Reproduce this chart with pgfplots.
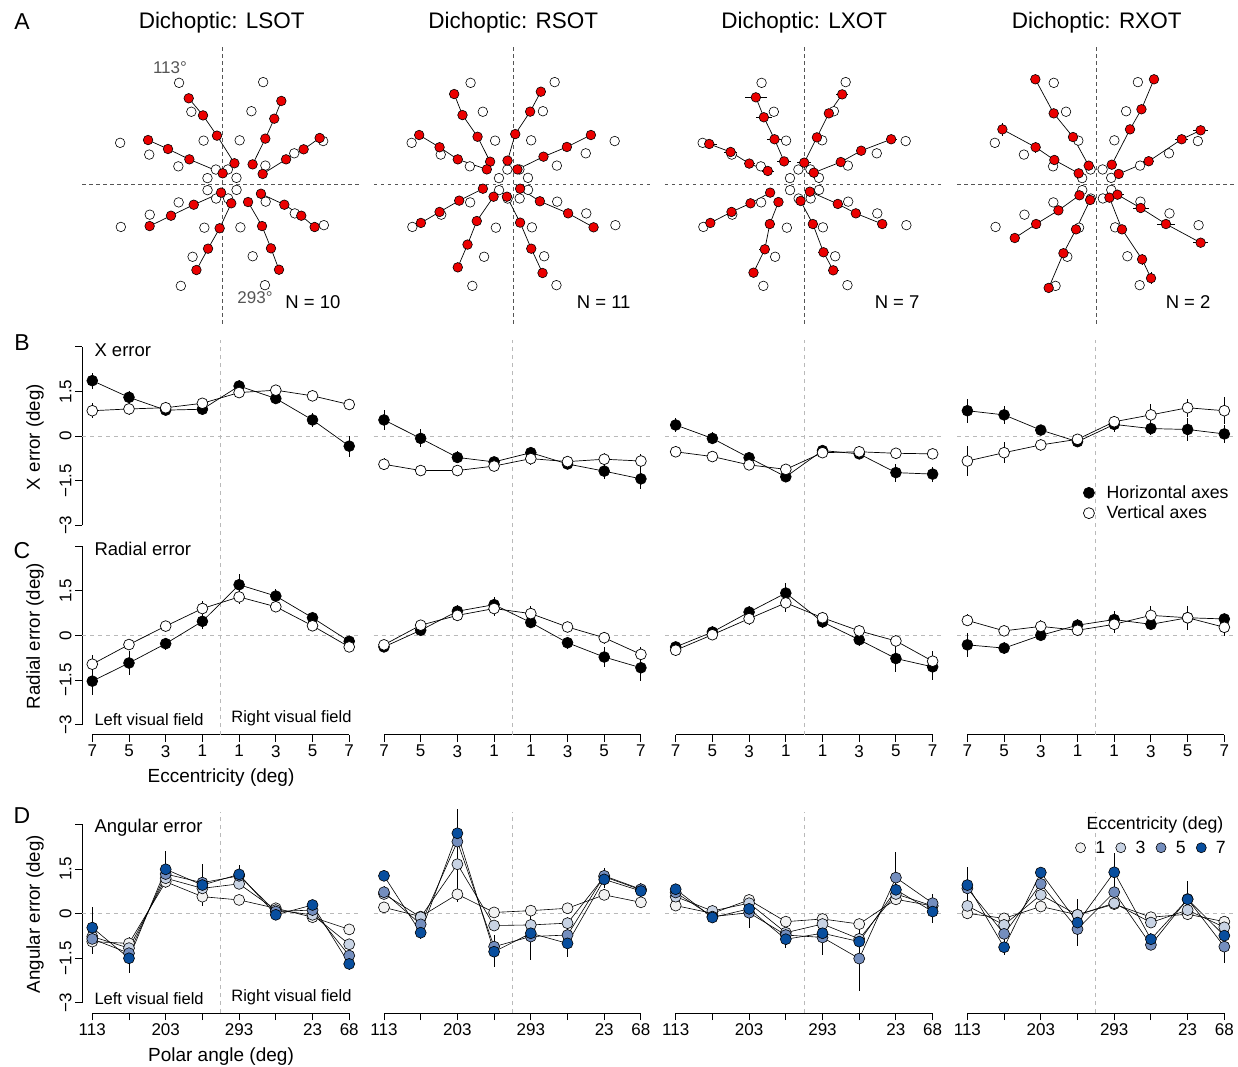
\documentclass[border=0pt]{standalone}
\usepackage{fontspec}
\setmainfont{Liberation Sans}
\usepackage{pgfplots}
\pgfplotsset{compat=1.18}
\usepackage{pgfplotstable}

\definecolor{eA}{RGB}{242,242,242}
\definecolor{eB}{RGB}{200,211,228}
\definecolor{eC}{RGB}{116,142,190}
\definecolor{eD}{RGB}{8,78,158}
\definecolor{refgray}{RGB}{185,185,185}
\definecolor{agray}{RGB}{85,85,85}
\definecolor{redpt}{RGB}{235,0,0}

\newcommand{\fs}[1]{\fontsize{#1bp}{#1bp}\selectfont}

% target positions (polar angle 23,68,...,338 deg; eccentricity 1,3,5,7 deg)
\pgfplotstableread{
x y
0.921 0.391
0.375 0.927
-0.391 0.921
-0.927 0.375
-0.921 -0.391
-0.375 -0.927
0.391 -0.921
0.927 -0.375
2.762 1.172
1.124 2.782
-1.172 2.762
-2.782 1.124
-2.762 -1.172
-1.124 -2.782
1.172 -2.762
2.782 -1.124
4.603 1.954
1.873 4.636
-1.954 4.603
-4.636 1.873
-4.603 -1.954
-1.873 -4.636
1.954 -4.603
4.636 -1.873
6.444 2.735
2.622 6.490
-2.735 6.444
-6.490 2.622
-6.444 -2.735
-2.622 -6.490
2.735 -6.444
6.490 -2.622
}\targets

\tikzset{
  refl/.style={refgray, dash pattern=on 4bp off 4bp, line width=0.8bp},
  adash/.style={agray, dash pattern=on 3.5bp off 3.5bp, line width=0.9bp},
}

\pgfplotsset{
  polar/.style={scale only axis, enlargelimits=false, clip=false, width=279.4bp, height=279.4bp,
    xmin=-8.9, xmax=8.9, ymin=-8.9, ymax=8.9, axis lines=none, unbounded coords=jump, anchor=south west},
  tgt/.style={only marks, mark=*, mark size=4.8bp, mark options={solid, fill=white, draw=black, line width=0.6bp}},
  resp/.style={black, line width=0.7bp, mark=*, mark size=4.8bp, mark options={solid, fill=redpt, draw=black, line width=0.6bp}},
  resperr/.style={resp, error bars/.cd, x dir=both, x explicit, y dir=both, y explicit, error mark=none, error bar style={black, line width=0.8bp}},
  err/.style={scale only axis, enlargelimits=false, clip=false, width=277.5bp, height=195.8bp,
    xmin=-0.28, xmax=7.28, ymin=-3.34, ymax=3.24, anchor=south west,
    axis x line=bottom, axis y line=left,
    tick align=outside, major tick length=7bp, tick style={black, line width=0.9bp},
    tick label style={font=\fs{17}},
    x axis line style={-, line width=0.9bp, shorten <=10.3bp, shorten >=10.3bp},
    y axis line style={-, line width=0.9bp, shorten <=10.1bp, shorten >=7.1bp},
    ytick={-3,-1.5,0,1.5,3}, yticklabels={−3,−1.5,0,1.5,{}}, yticklabel style={rotate=90, anchor=south},
    xtick={0,1,2,3,4,5,6,7}},
  noy/.style={hide y axis},
  nox/.style={hide x axis},
  xecc/.style={xticklabels={7,5,3,1,1,3,5,7}},
  xpol/.style={xticklabels={113,{},203,{},293,{},23,68}},
  hblk/.style={black, line width=0.7bp, mark=*, mark size=5.4bp, mark options={solid, fill=black, draw=black, line width=0.7bp}, forget plot,
    error bars/.cd, y dir=both, y explicit, error mark=none, error bar style={black, line width=0.9bp}},
  vwht/.style={black, line width=0.7bp, mark=*, mark size=5.4bp, mark options={solid, fill=white, draw=black, line width=0.7bp}, forget plot,
    error bars/.cd, y dir=both, y explicit, error mark=none, error bar style={black, line width=0.9bp}},
  ecc/.style={black, line width=0.6bp, mark=*, mark size=5.5bp, mark options={solid, fill=#1, draw=black, line width=0.6bp}, forget plot,
    error bars/.cd, y dir=both, y explicit, error mark=none, error bar style={black, line width=0.9bp}},
}
\newcommand{\refh}{\draw[refl] (axis cs:-0.28,0) -- (axis cs:7.28,0);}
\newcommand{\refv}[2]{\draw[refl] (axis cs:3.5,#1) -- (axis cs:3.5,#2);}
\newcommand{\adashes}{\draw[adash] (axis cs:-8.9,0) -- (axis cs:8.9,0); \draw[adash] (axis cs:0,-8.9) -- (axis cs:0,8.9);}

\begin{document}
\begin{tikzpicture}
\useasboundingbox (0bp,0bp) rectangle (1238bp,-1067bp);

% ================= Row A =================
\begin{axis}[polar, at={(82.3bp,-323.7bp)}]
\adashes
\addplot[tgt] table {\targets};
\addplot[resp] coordinates {
(6.22,2.93) (5.20,2.21) (4.08,1.57) (2.59,0.64) (nan,nan)
(3.78,5.29) (3.33,4.16) (2.76,2.89) (1.95,1.25) (nan,nan)
(-2.12,5.46) (-1.21,4.37) (-0.32,3.08) (0.79,1.32) (nan,nan)
(-4.71,2.80) (-3.44,2.23) (-2.08,1.57) (0.04,0.68) (nan,nan)
(-4.61,-2.68) (-3.25,-2.02) (-1.80,-1.32) (-0.06,-0.55) (nan,nan)
(-1.63,-5.48) (-0.89,-4.12) (-0.15,-2.82) (0.59,-1.23) (nan,nan)
(3.63,-5.46) (3.12,-4.10) (2.55,-2.68) (1.66,-1.15) (nan,nan)
(5.90,-2.74) (5.05,-2.02) (3.97,-1.32) (2.48,-0.62)
};
\end{axis}

\begin{axis}[polar, at={(373.8bp,-323.7bp)}]
\adashes
\addplot[tgt] table {\targets};
\addplot[resp] coordinates {
(4.93,3.12) (3.40,2.36) (1.91,1.74) (0.25,0.93) (nan,nan)
(1.74,5.88) (1.06,4.61) (0.11,3.18) (-0.38,1.49) (nan,nan)
(-3.78,5.73) (-3.25,4.39) (-2.29,3.01) (-1.49,1.42) (nan,nan)
(-6.01,3.12) (-4.71,2.34) (-3.55,1.57) (-1.70,0.93) (nan,nan)
(-5.90,-2.48) (-4.71,-1.78) (-3.46,-1.06) (-1.95,-0.30) (nan,nan)
(-3.55,-5.31) (-2.93,-3.86) (-2.34,-2.36) (-1.27,-0.81) (nan,nan)
(1.85,-5.67) (1.13,-4.12) (0.42,-2.46) (-0.42,-0.81) (nan,nan)
(5.10,-2.76) (3.48,-1.87) (1.68,-1.10) (0.42,-0.30)
};
\end{axis}

\begin{axis}[polar, at={(664.8bp,-323.7bp)}]
\adashes
\addplot[tgt] table {\targets};
\addplot[resperr] coordinates {
(5.52,2.85) +- (0.35,0) (3.61,2.12) +- (0.25,0) (2.31,1.40) +- (0.3,0) (0.59,0.72) +- (0.3,0) (nan,nan)
(2.40,5.71) +- (0.4,0) (1.55,4.50) +- (0.3,0) (0.79,2.97) +- (0.3,0) (-0.02,1.36) +- (0.45,0) (nan,nan)
(-3.10,5.52) +- (0.7,0) (-2.59,4.25) +- (0.53,0) (-1.91,2.85) +- (0.45,0) (-1.30,1.44) +- (0.45,0) (nan,nan)
(-6.07,2.55) +- (0.48,0) (-4.71,2.04) +- (0.4,0) (-3.52,1.30) +- (0.35,0) (-2.34,0.83) +- (0.4,0) (nan,nan)
(-6.00,-2.48) +- (0.3,0) (-4.65,-1.78) +- (0.3,0) (-3.44,-1.23) +- (0.25,0) (-2.19,-0.55) +- (0.25,0) (nan,nan)
(-3.25,-5.65) +- (0.3,0) (-2.53,-4.16) +- (0.35,0) (-2.21,-2.55) +- (0.3,0) (-1.66,-1.15) +- (0.25,0) (nan,nan)
(1.83,-5.50) +- (0.35,0) (1.21,-4.35) +- (0.35,0) (0.53,-2.55) +- (0.3,0) (-0.25,-1.08) +- (0.2,0) (nan,nan)
(4.95,-2.55) +- (0.3,0) (3.27,-1.87) +- (0.3,0) (2.12,-1.27) +- (0.3,0) (0.34,-0.49) +- (0.25,0)
};
\end{axis}

\begin{axis}[polar, at={(957.0bp,-323.7bp)}]
\adashes
\addplot[tgt] table {\targets};
\addplot[resperr] coordinates {
(6.62,3.42) +- (0.48,0) (5.41,2.85) +- (0.4,0) (3.31,1.45) +- (0.35,0) (1.40,0.64) +- (0.2,0) (nan,nan)
(3.65,6.67) +- (0.1,0) (2.85,4.76) +- (0.1,0) (2.12,3.48) +- (0.1,0) (0.96,1.23) +- (0.1,0) (nan,nan)
(-3.91,6.67) +- (0.1,0.1) (-2.74,4.50) +- (0.1,0.1) (-1.51,2.99) +- (0.1,0.1) (-0.51,1.17) +- (0.1,0.1) (nan,nan)
(-6.01,3.48) +- (0.1,0.4) (-3.89,2.34) +- (0.1,0.35) (-2.70,1.53) +- (0.1,0.2) (-1.15,0.68) +- (0.1,0.1) (nan,nan)
(-5.22,-3.44) +- (0.1,0.1) (-3.86,-2.55) +- (0.1,0.1) (-2.44,-1.68) +- (0.1,0.1) (-1.10,-0.72) +- (0.1,0.1) (nan,nan)
(-3.06,-6.62) +- (0.1,0.1) (-2.12,-4.41) +- (0.1,0.1) (-1.32,-2.89) +- (0.1,0.1) (-0.42,-1.02) +- (0.1,0.1) (nan,nan)
(3.46,-6.00) +- (0.1,0.4) (2.89,-4.80) +- (0.1,0.35) (1.61,-2.89) +- (0.1,0.1) (0.81,-0.87) +- (0.1,0.1) (nan,nan)
(6.62,-3.74) +- (0.5,0) (4.41,-2.55) +- (0.58,0) (2.80,-1.53) +- (0.5,0) (1.32,-0.68) +- (0.4,0)
};
\end{axis}

% ================= Row B: X error =================
\begin{axis}[err, nox, at={(82.0bp,-535.4bp)}]
\refh \refv{-3.6}{3.24}
\addplot[hblk] coordinates {(0,1.86) +- (0,0.27) (1,1.30) +- (0,0.2) (2,0.87) +- (0,0.15) (3,0.90) +- (0,0.2) (4,1.68) +- (0,0.2) (5,1.26) +- (0,0.2) (6,0.54) +- (0,0.25) (7,-0.34) +- (0,0.35)};
\addplot[vwht] coordinates {(0,0.85) +- (0,0.25) (1,0.91) +- (0,0.2) (2,0.95) +- (0,0.15) (3,1.10) +- (0,0.15) (4,1.46) +- (0,0.15) (5,1.54) +- (0,0.15) (6,1.35) +- (0,0.12) (7,1.06) +- (0,0.2)};
\end{axis}

\begin{axis}[err, nox, noy, at={(373.7bp,-535.4bp)}]
\refh \refv{-3.6}{3.24}
\addplot[hblk] coordinates {(0,0.54) +- (0,0.35) (1,-0.08) +- (0,0.3) (2,-0.72) +- (0,0.2) (3,-0.87) +- (0,0.15) (4,-0.56) +- (0,0.2) (5,-0.94) +- (0,0.15) (6,-1.18) +- (0,0.25) (7,-1.44) +- (0,0.35)};
\addplot[vwht] coordinates {(0,-0.95) +- (0,0.2) (1,-1.16) +- (0,0.2) (2,-1.16) +- (0,0.15) (3,-1.01) +- (0,0.15) (4,-0.76) +- (0,0.2) (5,-0.86) +- (0,0.15) (6,-0.78) +- (0,0.2) (7,-0.84) +- (0,0.25)};
\end{axis}

\begin{axis}[err, nox, noy, at={(665.4bp,-535.4bp)}]
\refh \refv{-3.6}{3.24}
\addplot[hblk] coordinates {(0,0.37) +- (0,0.25) (1,-0.08) +- (0,0.2) (2,-0.73) +- (0,0.2) (3,-1.37) +- (0,0.15) (4,-0.49) +- (0,0.15) (5,-0.60) +- (0,0.15) (6,-1.23) +- (0,0.3) (7,-1.28) +- (0,0.25)};
\addplot[vwht] coordinates {(0,-0.53) +- (0,0.15) (1,-0.69) +- (0,0.15) (2,-0.97) +- (0,0.15) (3,-1.12) +- (0,0.15) (4,-0.56) +- (0,0.15) (5,-0.53) +- (0,0.15) (6,-0.58) +- (0,0.15) (7,-0.60) +- (0,0.15)};
\end{axis}

\begin{axis}[err, nox, noy, at={(957.1bp,-535.4bp)},
  legend style={at={(rel axis cs:0.452,0.1655)}, anchor=west, draw=none, fill=none, inner sep=0pt, row sep=3bp, font=\fs{17.7}, nodes={inner sep=1.5bp}},
  legend cell align=left,
  legend image code/.code={\path (-6bp,0bp) (16bp,0bp); \draw[#1] plot coordinates {(0bp,0bp)};}]
\refh \refv{-3.6}{3.24}
\addplot[hblk] coordinates {(0,0.85) +- (0,0.4) (1,0.71) +- (0,0.3) (2,0.20) +- (0,0.15) (3,-0.19) +- (0,0.15) (4,0.39) +- (0,0.25) (5,0.25) +- (0,0.2) (6,0.22) +- (0,0.4) (7,0.07) +- (0,0.3)};
\addplot[vwht] coordinates {(0,-0.84) +- (0,0.5) (1,-0.56) +- (0,0.35) (2,-0.30) +- (0,0.2) (3,-0.11) +- (0,0.15) (4,0.48) +- (0,0.15) (5,0.71) +- (0,0.35) (6,0.95) +- (0,0.3) (7,0.85) +- (0,0.45)};
\addlegendimage{only marks, mark=*, mark size=5.5bp, mark options={fill=black, draw=black, line width=0.7bp}}
\addlegendentry{Horizontal axes}
\addlegendimage{only marks, mark=*, mark size=5.5bp, mark options={fill=white, draw=black, line width=0.7bp}}
\addlegendentry{Vertical axes}
\end{axis}

% ================= Row C: Radial error =================
\begin{axis}[err, xecc, at={(82.0bp,-734.7bp)}]
\refh \refv{-3.34}{3.24}
\addplot[hblk] coordinates {(0,-1.54) +- (0,0.45) (1,-0.93) +- (0,0.4) (2,-0.28) +- (0,0.2) (3,0.47) +- (0,0.25) (4,1.70) +- (0,0.35) (5,1.32) +- (0,0.25) (6,0.59) +- (0,0.15) (7,-0.20) +- (0,0.12)};
\addplot[vwht] coordinates {(0,-0.97) +- (0,0.3) (1,-0.31) +- (0,0.2) (2,0.31) +- (0,0.12) (3,0.90) +- (0,0.25) (4,1.29) +- (0,0.25) (5,0.96) +- (0,0.15) (6,0.32) +- (0,0.12) (7,-0.39) +- (0,0.12)};
\end{axis}

\begin{axis}[err, noy, xecc, at={(373.7bp,-734.7bp)}]
\refh \refv{-3.34}{3.24}
\addplot[hblk] coordinates {(0,-0.39) +- (0,0.15) (1,0.17) +- (0,0.2) (2,0.81) +- (0,0.2) (3,1.03) +- (0,0.25) (4,0.43) +- (0,0.2) (5,-0.25) +- (0,0.2) (6,-0.73) +- (0,0.35) (7,-1.09) +- (0,0.45)};
\addplot[vwht] coordinates {(0,-0.32) +- (0,0.15) (1,0.34) +- (0,0.15) (2,0.67) +- (0,0.2) (3,0.90) +- (0,0.25) (4,0.73) +- (0,0.25) (5,0.28) +- (0,0.15) (6,-0.08) +- (0,0.2) (7,-0.64) +- (0,0.25)};
\end{axis}

\begin{axis}[err, noy, xecc, at={(665.4bp,-734.7bp)}]
\refh \refv{-3.34}{3.24}
\addplot[hblk] coordinates {(0,-0.39) +- (0,0.15) (1,0.11) +- (0,0.2) (2,0.78) +- (0,0.2) (3,1.42) +- (0,0.35) (4,0.45) +- (0,0.2) (5,-0.15) +- (0,0.2) (6,-0.78) +- (0,0.45) (7,-1.06) +- (0,0.45)};
\addplot[vwht] coordinates {(0,-0.50) +- (0,0.15) (1,0.02) +- (0,0.15) (2,0.56) +- (0,0.2) (3,1.09) +- (0,0.3) (4,0.59) +- (0,0.2) (5,0.15) +- (0,0.15) (6,-0.19) +- (0,0.2) (7,-0.87) +- (0,0.35)};
\end{axis}

\begin{axis}[err, noy, xecc, at={(957.1bp,-734.7bp)}]
\refh \refv{-3.34}{3.24}
\addplot[hblk] coordinates {(0,-0.32) +- (0,0.4) (1,-0.43) +- (0,0.2) (2,0.00) +- (0,0.15) (3,0.34) +- (0,0.2) (4,0.53) +- (0,0.3) (5,0.37) +- (0,0.2) (6,0.59) +- (0,0.4) (7,0.55) +- (0,0.15)};
\addplot[vwht] coordinates {(0,0.50) +- (0,0.2) (1,0.15) +- (0,0.15) (2,0.30) +- (0,0.2) (3,0.17) +- (0,0.15) (4,0.37) +- (0,0.3) (5,0.67) +- (0,0.3) (6,0.59) +- (0,0.35) (7,0.27) +- (0,0.3)};
\end{axis}

% ================= Row D: Angular error =================
\begin{axis}[err, xpol, at={(82.0bp,-1013.0bp)}]
\refh \refv{-3.34}{3.4}
\addplot[ecc=eA] coordinates {(0,-0.94) +- (0,0.2) (1,-1.00) +- (0,0.2) (2,1.07) +- (0,0.2) (3,0.57) +- (0,0.25) (4,0.46) +- (0,0.1) (5,0.18) +- (0,0.1) (6,-0.12) +- (0,0.1) (7,-0.53) +- (0,0.1)};
\addplot[ecc=eB] coordinates {(0,-0.77) +- (0,0.3) (1,-1.16) +- (0,0.2) (2,1.19) +- (0,0.2) (3,0.85) +- (0,0.3) (4,1.00) +- (0,0.15) (5,0.12) +- (0,0.1) (6,-0.04) +- (0,0.1) (7,-1.03) +- (0,0.15)};
\addplot[ecc=eC] coordinates {(0,-0.85) +- (0,0.5) (1,-1.33) +- (0,0.3) (2,1.33) +- (0,0.3) (3,1.04) +- (0,0.3) (4,1.27) +- (0,0.2) (5,0.07) +- (0,0.1) (6,0.12) +- (0,0.1) (7,-1.41) +- (0,0.2)};
\addplot[ecc=eD] coordinates {(0,-0.47) +- (0,0.7) (1,-1.50) +- (0,0.5) (2,1.49) +- (0,0.6) (3,0.96) +- (0,0.7) (4,1.32) +- (0,0.3) (5,-0.04) +- (0,0.15) (6,0.29) +- (0,0.15) (7,-1.69) +- (0,0.2)};
\end{axis}

\begin{axis}[err, noy, xpol, at={(373.7bp,-1013.0bp)}]
\refh \refv{-3.34}{3.4}
\addplot[ecc=eA] coordinates {(0,0.21) +- (0,0.1) (1,-0.10) +- (0,0.1) (2,0.65) +- (0,0.25) (3,0.04) +- (0,0.1) (4,0.10) +- (0,0.1) (5,0.18) +- (0,0.1) (6,0.63) +- (0,0.1) (7,0.38) +- (0,0.1)};
\addplot[ecc=eB] coordinates {(0,0.66) +- (0,0.15) (1,-0.12) +- (0,0.15) (2,1.66) +- (0,0.9) (3,-0.40) +- (0,0.2) (4,-0.38) +- (0,0.2) (5,-0.32) +- (0,0.2) (6,1.24) +- (0,0.2) (7,0.80) +- (0,0.15)};
\addplot[ecc=eC] coordinates {(0,0.72) +- (0,0.2) (1,-0.36) +- (0,0.2) (2,2.42) +- (0,0.8) (3,-1.11) +- (0,0.4) (4,-0.77) +- (0,0.5) (5,-0.72) +- (0,0.3) (6,1.27) +- (0,0.25) (7,0.82) +- (0,0.2)};
\addplot[ecc=eD] coordinates {(0,1.27) +- (0,0.15) (1,-0.64) +- (0,0.2) (2,2.70) +- (0,0.8) (3,-1.28) +- (0,0.5) (4,-0.66) +- (0,0.9) (5,-1.00) +- (0,0.45) (6,1.15) +- (0,0.3) (7,0.76) +- (0,0.2)};
\end{axis}

\begin{axis}[err, noy, xpol, at={(665.4bp,-1013.0bp)}]
\refh \refv{-3.34}{3.4}
\addplot[ecc=eA] coordinates {(0,0.27) +- (0,0.1) (1,0.01) +- (0,0.1) (2,0.46) +- (0,0.1) (3,-0.27) +- (0,0.1) (4,-0.18) +- (0,0.1) (5,-0.35) +- (0,0.1) (6,0.48) +- (0,0.2) (7,0.26) +- (0,0.1)};
\addplot[ecc=eB] coordinates {(0,0.57) +- (0,0.1) (1,0.09) +- (0,0.1) (2,0.35) +- (0,0.2) (3,-0.64) +- (0,0.2) (4,-0.35) +- (0,0.2) (5,-0.85) +- (0,0.3) (6,0.66) +- (0,0.3) (7,0.26) +- (0,0.2)};
\addplot[ecc=eC] coordinates {(0,0.71) +- (0,0.15) (1,-0.10) +- (0,0.1) (2,0.03) +- (0,0.5) (3,-0.72) +- (0,0.3) (4,-0.80) +- (0,0.6) (5,-1.51) +- (0,1.1) (6,1.21) +- (0,0.85) (7,0.35) +- (0,0.3)};
\addplot[ecc=eD] coordinates {(0,0.82) +- (0,0.15) (1,-0.13) +- (0,0.1) (2,0.16) +- (0,0.2) (3,-0.86) +- (0,0.3) (4,-0.66) +- (0,0.3) (5,-0.94) +- (0,0.4) (6,0.80) +- (0,0.3) (7,0.07) +- (0,0.4)};
\end{axis}

\begin{axis}[err, noy, xpol, at={(957.1bp,-1013.0bp)},
  legend style={at={(rel axis cs:0.393,0.844)}, anchor=west, draw=none, fill=none, inner sep=0pt, font=\fs{17.7}, nodes={inner sep=1.5bp}},
  legend columns=4,
  legend image code/.code={\path (-14bp,0bp) (13bp,0bp); \draw[#1] plot coordinates {(0bp,0bp)};}]
\refh \refv{-3.34}{3.4}
\addplot[ecc=eA] coordinates {(0,0.01) +- (0,0.1) (1,-0.16) +- (0,0.1) (2,0.24) +- (0,0.1) (3,-0.04) +- (0,0.15) (4,0.32) +- (0,0.1) (5,-0.12) +- (0,0.1) (6,-0.02) +- (0,0.1) (7,-0.27) +- (0,0.1)};
\addplot[ecc=eB] coordinates {(0,0.26) +- (0,0.2) (1,-0.38) +- (0,0.1) (2,0.63) +- (0,0.15) (3,-0.04) +- (0,0.2) (4,0.35) +- (0,0.15) (5,-0.30) +- (0,0.1) (6,0.12) +- (0,0.2) (7,-0.46) +- (0,0.2)};
\addplot[ecc=eC] coordinates {(0,0.85) +- (0,0.5) (1,-0.68) +- (0,0.2) (2,1.00) +- (0,0.2) (3,-0.52) +- (0,0.4) (4,0.72) +- (0,0.3) (5,-1.05) +- (0,0.15) (6,0.49) +- (0,0.3) (7,-1.11) +- (0,0.55)};
\addplot[ecc=eD] coordinates {(0,0.96) +- (0,0.6) (1,-1.13) +- (0,0.25) (2,1.38) +- (0,0.15) (3,-0.30) +- (0,0.8) (4,1.39) +- (0,0.65) (5,-0.86) +- (0,0.2) (6,0.48) +- (0,0.6) (7,-0.74) +- (0,0.3)};
\addlegendimage{only marks, mark=*, mark size=5bp, mark options={fill=eA, draw=black, line width=0.6bp}}
\addlegendentry{1}
\addlegendimage{only marks, mark=*, mark size=5bp, mark options={fill=eB, draw=black, line width=0.6bp}}
\addlegendentry{3}
\addlegendimage{only marks, mark=*, mark size=5bp, mark options={fill=eC, draw=black, line width=0.6bp}}
\addlegendentry{5}
\addlegendimage{only marks, mark=*, mark size=5bp, mark options={fill=eD, draw=black, line width=0.6bp}}
\addlegendentry{7}
\end{axis}

% ================= Texts =================
\node[font=\fs{23}] at (22bp,-22bp) {A};
\node[font=\fs{23}] at (22bp,-343bp) {B};
\node[font=\fs{23}] at (22bp,-551bp) {C};
\node[font=\fs{23}] at (22bp,-816bp) {D};

\node[font=\fs{22.5}] at (221.7bp,-23bp) {Dichoptic: LSOT};
\node[font=\fs{22.5}] at (513.3bp,-23bp) {Dichoptic: RSOT};
\node[font=\fs{22.5}] at (804.3bp,-23bp) {Dichoptic: LXOT};
\node[font=\fs{22.5}] at (1096.7bp,-23bp) {Dichoptic: RXOT};

\node[font=\fs{17}, text=agray] at (170bp,-68bp) {113°};
\node[font=\fs{17}, text=agray] at (255bp,-298bp) {293°};
\node[font=\fs{18.5}, anchor=east] at (344bp,-302bp) {N = 10};
\node[font=\fs{18.5}, anchor=east] at (634bp,-302bp) {N = 11};
\node[font=\fs{18.5}, anchor=east] at (923bp,-302bp) {N = 7};
\node[font=\fs{18.5}, anchor=east] at (1214bp,-302bp) {N = 2};

\node[font=\fs{18.5}, anchor=west] at (91bp,-350bp) {X error};
\node[font=\fs{18.5}, anchor=west] at (91bp,-549bp) {Radial error};
\node[font=\fs{18.5}, anchor=west] at (91bp,-828bp) {Angular error};

\node[font=\fs{16.5}, anchor=west] at (91bp,-720bp) {Left visual field};
\node[font=\fs{16.5}, anchor=east] at (355bp,-718bp) {Right visual field};
\node[font=\fs{16.5}, anchor=west] at (91bp,-999bp) {Left visual field};
\node[font=\fs{16.5}, anchor=east] at (355bp,-997bp) {Right visual field};

\node[font=\fs{18.7}, rotate=90] at (35bp,-437bp) {X error (deg)};
\node[font=\fs{18.7}, rotate=90] at (35bp,-636bp) {Radial error (deg)};
\node[font=\fs{18.7}, rotate=90] at (35bp,-914bp) {Angular error (deg)};

\node[font=\fs{19}] at (221bp,-778bp) {Eccentricity (deg)};
\node[font=\fs{19}] at (221bp,-1057bp) {Polar angle (deg)};
\node[font=\fs{17.7}] at (1155bp,-825bp) {Eccentricity (deg)};
\end{tikzpicture}
\end{document}
